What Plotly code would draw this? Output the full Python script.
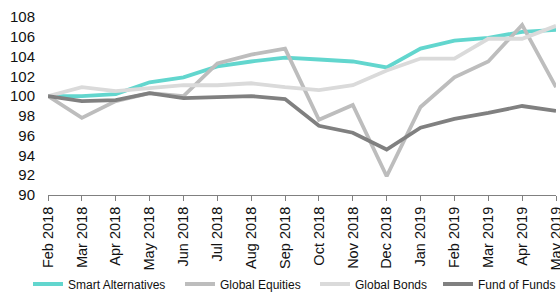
import plotly.graph_objects as go

months = ["Feb 2018", "Mar 2018", "Apr 2018", "May 2018", "Jun 2018", "Jul 2018",
          "Aug 2018", "Sep 2018", "Oct 2018", "Nov 2018", "Dec 2018", "Jan 2019",
          "Feb 2019", "Mar 2019", "Apr 2019", "May 2019"]

smart_alternatives = [100.0, 100.0, 100.2, 101.4, 101.9, 103.0, 103.5, 103.9,
                      103.7, 103.5, 102.9, 104.8, 105.6, 105.9, 106.5, 106.7]
global_equities = [100.0, 97.8, 99.5, 100.3, 100.0, 103.3, 104.2, 104.8,
                   97.6, 99.1, 91.9, 98.9, 101.9, 103.5, 107.2, 100.9]
global_bonds = [100.0, 100.9, 100.5, 100.8, 101.1, 101.1, 101.3, 100.9,
                100.6, 101.1, 102.6, 103.8, 103.8, 105.8, 105.8, 107.1]
fund_of_funds = [100.0, 99.5, 99.6, 100.3, 99.8, 99.9, 100.0, 99.7,
                 97.0, 96.3, 94.6, 96.8, 97.7, 98.3, 99.0, 98.5]

y_ticks = [90, 92, 94, 96, 98, 100, 102, 104, 106, 108]

series = [
    ("Smart Alternatives", smart_alternatives, "#62d6ce", "legend"),
    ("Global Equities", global_equities, "#bdbdbd", "legend2"),
    ("Global Bonds", global_bonds, "#dadada", "legend3"),
    ("Fund of Funds", fund_of_funds, "#808080", "legend4"),
]
legend_left_px = [28, 180, 315, 438]

fig = go.Figure()
for name, vals, color, lg in series:
    fig.add_trace(go.Scatter(x=months, y=vals, name=name, mode="lines", legend=lg,
                             line=dict(color=color, width=3.8)))

def legend_cfg(px):
    return dict(orientation="h", x=px / 560, xanchor="left", y=8 / 292, yanchor="middle",
                xref="container", yref="container", font=dict(size=12),
                itemwidth=30, bgcolor="rgba(0,0,0,0)", borderwidth=0)

fig.update_layout(
    width=560, height=292,
    margin=dict(l=48, r=4, t=17, b=97),
    paper_bgcolor="white", plot_bgcolor="white",
    font=dict(family="Liberation Sans, Arial, sans-serif", color="#111111", size=12),
    showlegend=True,
    legend=legend_cfg(legend_left_px[0]),
    legend2=legend_cfg(legend_left_px[1]),
    legend3=legend_cfg(legend_left_px[2]),
    legend4=legend_cfg(legend_left_px[3]),
)
fig.update_xaxes(type="category", range=[0, len(months) - 1], tickangle=-90,
                 showline=True, linecolor="#808080", linewidth=1,
                 ticks="outside", ticklen=5, tickcolor="#808080", automargin=False,
                 showgrid=False, zeroline=False, tickfont=dict(size=14.5))
fig.update_yaxes(range=[90, 108], tickvals=y_ticks, showgrid=False, zeroline=False,
                 showline=False, ticks="", automargin=False, ticklabelstandoff=12,
                 tickfont=dict(size=15))

fig.write_html("out.html", config={"displayModeBar": False},
               post_script="document.body.style.margin='0';document.body.style.overflow='hidden';")
